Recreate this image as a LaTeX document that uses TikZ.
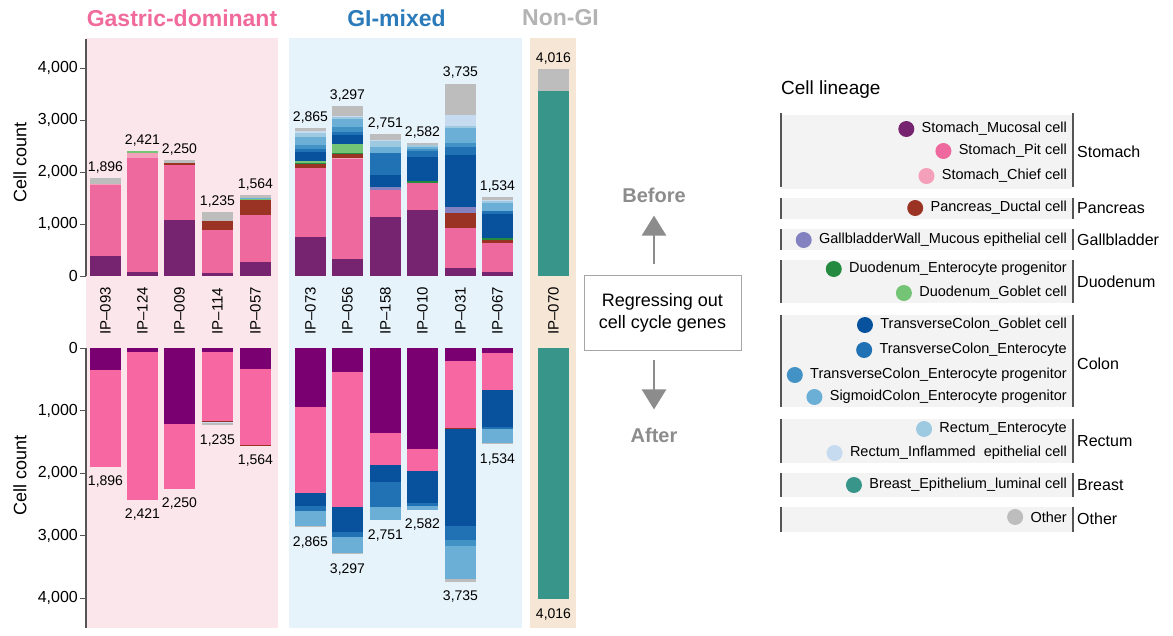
\documentclass[tikz,border=0pt]{standalone}
\usepackage{fontspec}
\setmainfont{Liberation Sans}
\usetikzlibrary{positioning,arrows.meta}

% lineage colours
\definecolor{muc}{HTML}{762470}
\definecolor{mucL}{HTML}{7A0072}
\definecolor{pit}{HTML}{EE6A9E}
\definecolor{pitL}{HTML}{F768A2}
\definecolor{chief}{HTML}{F4A0BA}
\definecolor{panc}{HTML}{9A3324}
\definecolor{gall}{HTML}{8481C0}
\definecolor{duop}{HTML}{248A3F}
\definecolor{duog}{HTML}{74C476}
\definecolor{tcg}{HTML}{08519C}
\definecolor{tce}{HTML}{2171B5}
\definecolor{tcp}{HTML}{4292C6}
\definecolor{sig}{HTML}{6BAED6}
\definecolor{rece}{HTML}{9ECAE1}
\definecolor{reci}{HTML}{C6DBEF}
\definecolor{brst}{HTML}{37958A}
\definecolor{oth}{HTML}{BDBDBD}
% panels
\definecolor{gastricbg}{HTML}{FBE6EC}
\definecolor{gimixbg}{HTML}{E6F3FA}
\definecolor{nongibg}{HTML}{F5E6D6}
\definecolor{gastrictx}{HTML}{F06A9B}
\definecolor{gimixtx}{HTML}{2B7BBA}
\definecolor{nongitx}{HTML}{B3B3B3}
\definecolor{axisgray}{HTML}{555555}
\definecolor{flowgray}{HTML}{8C8C8C}
\definecolor{legbg}{HTML}{F3F3F3}

\tikzset{
  vallab/.style={font=\fontsize{14}{16}\selectfont, inner sep=0pt},
  iplab/.style={font=\fontsize{15}{17}\selectfont, rotate=90, inner sep=0pt},
  ticklab/.style={font=\fontsize{16}{18}\selectfont, anchor=east, inner sep=0pt},
  grouptitle/.style={font=\fontsize{23}{27}\selectfont\bfseries, inner sep=0pt},
  axislab/.style={font=\fontsize{18}{21}\selectfont, rotate=90, inner sep=0pt},
  flowlab/.style={font=\fontsize{20}{24}\selectfont\bfseries, text=flowgray, inner sep=0pt},
  flowarrow/.style={draw=flowgray, line width=2.5pt, -{Triangle[width=24pt,length=20pt]}},
  dot/.style={circle, minimum size=16pt, inner sep=0pt},
  legline/.style={draw=axisgray, line width=1.2pt},
}

% stacked bar, upper panel (grows upwards from y=276)
\newcommand{\barup}[4]{%
  \gdef\cum{0}%
  \foreach \n/\c in {#4}{
    \pgfmathsetmacro\nxt{\cum+\n}
    \fill[\c] (#2,{276-\cum*0.0515}) rectangle (#2+31,{276-\nxt*0.0515});
    \xdef\cum{\nxt}
  }
  \node[vallab, anchor=south] (#1) at (#2+15.5,{271-\cum*0.0515}) {#3};
}
% stacked bar, lower panel (grows downwards from y=348)
\newcommand{\bardown}[4]{%
  \gdef\cum{0}%
  \foreach \n/\c in {#4}{
    \pgfmathsetmacro\nxt{\cum+\n}
    \fill[\c] (#2,{348+\cum*0.0626}) rectangle (#2+31,{348+\nxt*0.0626});
    \xdef\cum{\nxt}
  }
  \node[vallab, anchor=north] (#1) at (#2+15.5,{357+\cum*0.0626}) {#3};
}

\begin{document}
\begin{tikzpicture}[x=1pt,y=-1pt]
  \useasboundingbox (0,0) rectangle (1173,635);

  % panels
  \fill[gastricbg] (86,38) rectangle (278,628);
  \fill[gimixbg] (289,38) rectangle (522,628);
  \fill[nongibg] (530,38) rectangle (576,628);

  \node[grouptitle, text=gastrictx] (gastric) at (182,18) {Gastric-dominant};
  \node[grouptitle, text=gimixtx] (gimix) at (396.5,18) {GI-mixed};
  \node[grouptitle, text=nongitx] (nongi) at (560.5,18) {Non-GI};

  % axes
  \draw[axisgray, line width=1.5pt] (86,39) -- (86,276);
  \draw[axisgray, line width=1.5pt] (86,348) -- (86,628);
  \foreach \k/\t in {0/0,1/{1,000},2/{2,000},3/{3,000},4/{4,000}}{
    \draw[axisgray, line width=1pt] (80,276-\k*52) -- (86,276-\k*52);
    \node[ticklab] at (78,276-\k*52) {\t};
    \draw[axisgray, line width=1pt] (80,348+\k*62.6) -- (86,348+\k*62.6);
    \node[ticklab] at (78,348+\k*62.6) {\t};
  }
  \node[axislab] (ylabup) at (20,162) {Cell count};
  \node[axislab] (ylabdown) at (20,475) {Cell count};

  % before
  \barup{u093}{90}{1,896}{390/muc,1370/pit,30/chief,106/oth}
  \barup{u124}{127}{2,421}{70/muc,2230/pit,80/chief,41/duog}
  \barup{u009}{164}{2,250}{1080/muc,1070/pit,40/panc,60/oth}
  \barup{u114}{202}{1,235}{60/muc,840/pit,165/panc,170/oth}
  \barup{u057}{240}{1,564}{266/muc,914/pit,290/panc,30/duog,20/sig,44/oth}
  \barup{u073}{295}{2,865}{760/muc,1330/pit,80/panc,30/duop,30/duog,180/tcg,60/tce,80/tcp,150/sig,80/rece,40/reci,45/oth}
  \barup{u056}{332}{3,297}{330/muc,1940/pit,30/chief,65/panc,30/duop,160/duog,190/tcg,60/tce,90/tcp,160/sig,30/rece,30/reci,182/oth}
  \barup{u158}{370}{2,751}{1140/muc,525/pit,55/gall,245/tcg,420/tce,125/sig,110/rece,20/reci,111/oth}
  \barup{u010}{407}{2,582}{1275/muc,537/pit,25/duop,480/tcg,110/tce,40/tcp,45/sig,30/rece,40/oth}
  \barup{u031}{445}{3,735}{146/muc,780/pit,290/panc,115/gall,1015/tcg,165/tce,75/tcp,285/sig,45/rece,220/reci,599/oth}
  \barup{u067}{482}{1,534}{70/muc,563/pit,63/panc,34/duop,473/tcg,64/tce,146/sig,43/rece,20/reci,58/oth}
  \barup{u070}{538}{4,016}{3600/brst,416/oth}

  % after
  \bardown{d093}{90}{1,896}{350/mucL,1546/pitL}
  \bardown{d124}{127}{2,421}{60/mucL,2361/pitL}
  \bardown{d009}{164}{2,250}{1215/mucL,1035/pitL}
  \bardown{d114}{202}{1,235}{65/mucL,1100/pitL,15/panc,20/reci,35/oth}
  \bardown{d057}{240}{1,564}{340/mucL,1204/pitL,20/panc}
  \bardown{d073}{295}{2,865}{950/mucL,1370/pitL,200/tcg,90/tce,240/sig,15/oth}
  \bardown{d056}{332}{3,297}{390/mucL,2145/pitL,400/tcg,90/tce,257/sig,15/oth}
  \bardown{d158}{370}{2,751}{1365/mucL,510/pitL,260/tcg,410/tce,206/sig}
  \bardown{d010}{407}{2,582}{1620/mucL,340/pitL,510/tcg,55/tce,57/sig}
  \bardown{d031}{445}{3,735}{208/mucL,1075/pitL,17/panc,1538/tcg,229/tce,90/tcp,538/sig,40/oth}
  \bardown{d067}{482}{1,534}{85/mucL,585/pitL,597/tcg,33/tce,224/sig,10/oth}
  \bardown{d070}{538}{4,016}{4016/brst}

  % sample names
  \begin{scope}[every node/.style={iplab}]
    \node (ip093) at (105.5,311) {IP\textendash093};
    \node (ip124) at (142.5,311) {IP\textendash124};
    \node (ip009) at (179.5,311) {IP\textendash009};
    \node (ip114) at (217.5,311) {IP\textendash114};
    \node (ip057) at (255.5,311) {IP\textendash057};
    \node (ip073) at (310.5,311) {IP\textendash073};
    \node (ip056) at (347.5,311) {IP\textendash056};
    \node (ip158) at (385.5,311) {IP\textendash158};
    \node (ip010) at (422.5,311) {IP\textendash010};
    \node (ip031) at (460.5,311) {IP\textendash031};
    \node (ip067) at (497.5,311) {IP\textendash067};
    \node (ip070) at (553.5,311) {IP\textendash070};
  \end{scope}

  % regression step
  \node[draw=gray!70, line width=0.8pt, minimum width=157pt, minimum height=75pt, align=center,
        font=\fontsize{18}{22.3}\selectfont] (regress) at (662.5,312.5) {Regressing out\\cell cycle genes};
  \node[flowlab] (before) at (654,195) {Before};
  \node[flowlab] (after) at (654,435) {After};
  \draw[flowarrow, shorten <=11pt, shorten >=13pt] (regress.north -| before) -- (before.south);
  \draw[flowarrow, shorten <=10pt, shorten >=18pt] (regress.south -| after) -- (after.north);

  % legend
  \node[font=\fontsize{19}{22}\selectfont, anchor=west, inner sep=0pt] (lineage) at (781,90) {Cell lineage};

  \fill[legbg] (781,115) rectangle (1072,189);
  \fill[legbg] (781,198) rectangle (1072,219);
  \fill[legbg] (781,229) rectangle (1072,250);
  \fill[legbg] (781,260) rectangle (1072,303);
  \fill[legbg] (781,315) rectangle (1072,407);
  \fill[legbg] (781,419) rectangle (1072,463);
  \fill[legbg] (781,473) rectangle (1072,497);
  \fill[legbg] (781,507) rectangle (1072,532);

  \foreach \a/\b in {113/187,198/219,229/250,260/303,315/407,419/463,473/497,507/532}{
    \draw[legline] (781,\a) -- (781,\b);
    \draw[legline] (1073,\a) -- (1073,\b);
  }

  \begin{scope}[every node/.style={font=\fontsize{14.5}{16}\selectfont, anchor=east, inner sep=0pt}]
    \node (mucosal) at (1067,129) {Stomach\_Mucosal cell};
    \node (pitcell) at (1067,151) {Stomach\_Pit cell};
    \node (chiefcell) at (1067,176) {Stomach\_Chief cell};
    \node (ductal) at (1067,208) {Pancreas\_Ductal cell};
    \node (mucous) at (1067,240) {GallbladderWall\_Mucous epithelial cell};
    \node (duoprog) at (1067,269) {Duodenum\_Enterocyte progenitor};
    \node (duogob) at (1067,293) {Duodenum\_Goblet cell};
    \node (tcgob) at (1067,325) {TransverseColon\_Goblet cell};
    \node (tcent) at (1067,350) {TransverseColon\_Enterocyte};
    \node (tcprog) at (1067,375) {TransverseColon\_Enterocyte progenitor};
    \node (sigprog) at (1067,397) {SigmoidColon\_Enterocyte progenitor};
    \node (recent) at (1067,429) {Rectum\_Enterocyte};
    \node (recinfl) at (1067,453) {Rectum\_Inflammed~ epithelial cell};
    \node (luminal) at (1067,485) {Breast\_Epithelium\_luminal cell};
    \node (other) at (1067,517) {Other};
  \end{scope}

  \begin{scope}[every node/.style={dot}]
    \node[fill=muc, left=7pt of mucosal] (dmucosal) {};
    \node[fill=pit, left=7pt of pitcell] (dpitcell) {};
    \node[fill=chief, left=7pt of chiefcell] (dchiefcell) {};
    \node[fill=panc, left=7pt of ductal] (dductal) {};
    \node[fill=gall, left=7pt of mucous] (dmucous) {};
    \node[fill=duop, left=7pt of duoprog] (dduoprog) {};
    \node[fill=duog, left=7pt of duogob] (dduogob) {};
    \node[fill=tcg, left=7pt of tcgob] (dtcgob) {};
    \node[fill=tce, left=7pt of tcent] (dtcent) {};
    \node[fill=tcp, left=7pt of tcprog] (dtcprog) {};
    \node[fill=sig, left=7pt of sigprog] (dsigprog) {};
    \node[fill=rece, left=7pt of recent] (drecent) {};
    \node[fill=reci, left=7pt of recinfl] (drecinfl) {};
    \node[fill=brst, left=7pt of luminal] (dluminal) {};
    \node[fill=oth, left=7pt of other] (dother) {};
  \end{scope}

  \begin{scope}[every node/.style={font=\fontsize{16}{18}\selectfont, anchor=west, inner sep=0pt}]
    \node (stomach) at (1077,152) {Stomach};
    \node (pancreas) at (1077,208) {Pancreas};
    \node (gallbladder) at (1077,240) {Gallbladder};
    \node (duodenum) at (1077,282) {Duodenum};
    \node (colon) at (1077,364) {Colon};
    \node (rectum) at (1077,441) {Rectum};
    \node (breast) at (1077,485) {Breast};
    \node (otherg) at (1077,519) {Other};
  \end{scope}
\end{tikzpicture}
\end{document}
